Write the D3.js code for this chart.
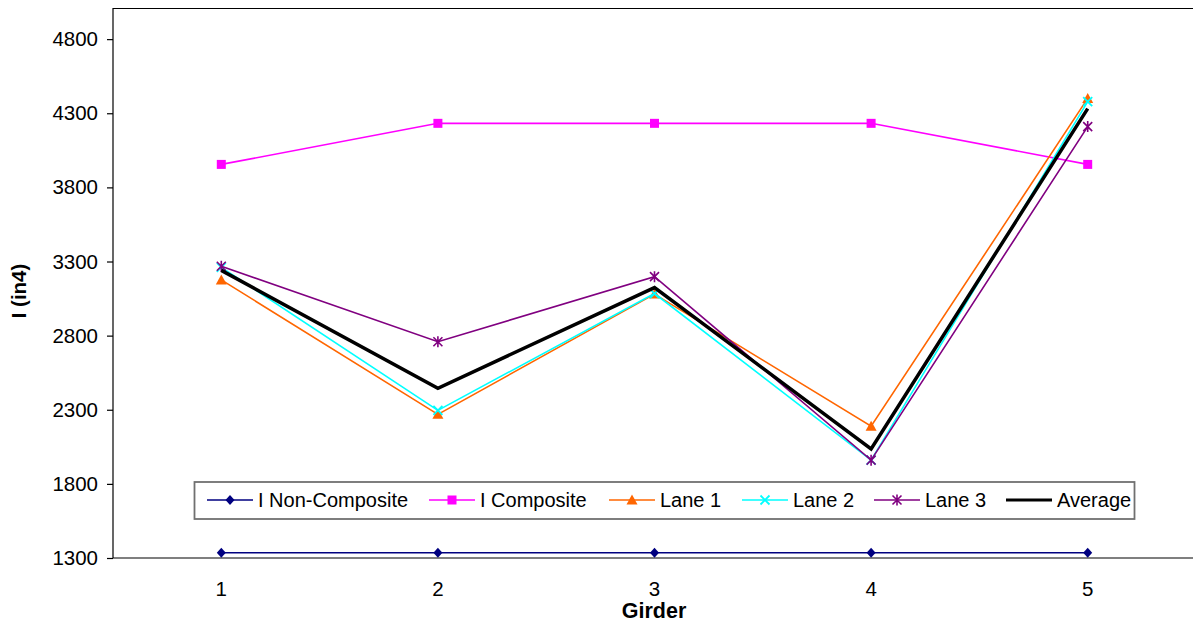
<!DOCTYPE html>
<html>
<head>
<meta charset="utf-8">
<script src="https://cdn.jsdelivr.net/npm/d3@7"></script>
<style>
  html, body { margin: 0; padding: 0; background: #fff; }
  svg { display: block; font-family: "Liberation Sans", Arial, sans-serif; }
</style>
</head>
<body>
<svg id="chart" width="1193" height="624"></svg>
<script>
const categories = ["1", "2", "3", "4", "5"];
const yTicks = [1300, 1800, 2300, 2800, 3300, 3800, 4300, 4800];
const seriesNames = ["I Non-Composite", "I Composite", "Lane 1", "Lane 2", "Lane 3", "Average"];
const nonComposite = [1335, 1335, 1335, 1335, 1335];
const composite = [3955, 4232, 4232, 4232, 3955];
const lane1 = [3176, 2269, 3080, 2189, 4400];
const lane2 = [3260, 2296, 3084, 1960, 4378];
const lane3 = [3268, 2759, 3198, 1960, 4210];
const average = [3240, 2445, 3124, 2036, 4331];

const series = [
  { name: seriesNames[0], values: nonComposite, color: "#000080", width: 1.6, marker: "diamond" },
  { name: seriesNames[1], values: composite, color: "#FF00FF", width: 1.6, marker: "square" },
  { name: seriesNames[2], values: lane1, color: "#FF6600", width: 1.6, marker: "triangle" },
  { name: seriesNames[3], values: lane2, color: "#00FFFF", width: 1.6, marker: "x" },
  { name: seriesNames[4], values: lane3, color: "#800080", width: 1.6, marker: "star" },
  { name: seriesNames[5], values: average, color: "#000000", width: 3.5, marker: null }
];

const svg = d3.select("#chart");
const plot = { left: 113, right: 1196, top: 8, bottom: 558 };

const x = d3.scaleBand().domain(categories).range([plot.left, plot.right]);
const y = d3.scaleLinear().domain([1300, 5010]).range([plot.bottom, plot.top]);
const cx = c => x(c) + x.bandwidth() / 2;

// plot frame: top border
svg.append("line").attr("x1", plot.left).attr("x2", plot.right)
  .attr("y1", plot.top + 0.5).attr("y2", plot.top + 0.5)
  .attr("stroke", "#000").attr("stroke-width", 1.2);

// Y axis
const yAxis = d3.axisLeft(y).tickValues(yTicks).tickSize(6).tickPadding(9).tickFormat(d3.format("d"));
const gy = svg.append("g").attr("transform", `translate(${plot.left},0)`).call(yAxis);
gy.select(".domain").attr("stroke", "#000").attr("stroke-width", 1.2)
  .attr("d", `M0,${plot.top}V${plot.bottom}`);
gy.selectAll(".tick line").attr("stroke", "#000").attr("stroke-width", 1.2);
gy.selectAll(".tick text").attr("font-size", 20.5).attr("fill", "#000")
  .attr("font-family", "Liberation Sans, Arial, sans-serif");

// X axis
const xAxis = d3.axisBottom(x).tickSize(0).tickPadding(23);
const gx = svg.append("g").attr("transform", `translate(0,${plot.bottom})`).call(xAxis);
gx.select(".domain").attr("stroke", "#000").attr("stroke-width", 1.2)
  .attr("d", `M${plot.left},0H${plot.right}`);
gx.selectAll(".tick text").attr("font-size", 20.5).attr("fill", "#000")
  .attr("font-family", "Liberation Sans, Arial, sans-serif");

// Axis titles
svg.append("text").attr("x", 654).attr("y", 618).attr("text-anchor", "middle")
  .attr("font-size", 21.5).attr("font-weight", "bold").text("Girder");
svg.append("text").attr("transform", "translate(26,291) rotate(-90)")
  .attr("text-anchor", "middle").attr("font-size", 20.5).attr("font-weight", "bold").text("I (in4)");

function drawMarker(g, type, px, py, color) {
  const s = 4.5;
  if (type === "diamond") {
    g.append("path").attr("d", `M${px},${py - s - 0.5}L${px + s},${py}L${px},${py + s + 0.5}L${px - s},${py}Z`).attr("fill", color);
  } else if (type === "square") {
    g.append("rect").attr("x", px - 4.5).attr("y", py - 4.5).attr("width", 9).attr("height", 9).attr("fill", color);
  } else if (type === "triangle") {
    g.append("path").attr("d", `M${px},${py - 5.5}L${px + 5.5},${py + 4.5}L${px - 5.5},${py + 4.5}Z`).attr("fill", color);
  } else if (type === "x") {
    g.append("path").attr("d", `M${px - s},${py - s}L${px + s},${py + s}M${px - s},${py + s}L${px + s},${py - s}`)
      .attr("stroke", color).attr("stroke-width", 1.8).attr("fill", "none");
  } else if (type === "star") {
    g.append("path").attr("d", `M${px - s},${py - s}L${px + s},${py + s}M${px - s},${py + s}L${px + s},${py - s}M${px},${py - s - 1}L${px},${py + s + 1}`)
      .attr("stroke", color).attr("stroke-width", 1.6).attr("fill", "none");
  }
}

const line = d3.line().x((d, i) => cx(categories[i])).y(d => y(d));
const gLines = svg.append("g");
series.forEach(s => {
  gLines.append("path").datum(s.values).attr("d", line)
    .attr("fill", "none").attr("stroke", s.color).attr("stroke-width", s.width)
    .attr("stroke-linejoin", "miter");
  if (s.marker) {
    s.values.forEach((v, i) => drawMarker(gLines, s.marker, cx(categories[i]), y(v), s.color));
  }
});

// Legend
const legend = svg.append("g");
legend.append("rect").attr("x", 194.5).attr("y", 482).attr("width", 940).attr("height", 37)
  .attr("fill", "#fff").attr("stroke", "#707070").attr("stroke-width", 1.8);
const legendX = [207, 429, 609, 742, 874, 1006];
series.forEach((s, i) => {
  const lx = legendX[i], ly = 500;
  legend.append("line").attr("x1", lx).attr("x2", lx + 46).attr("y1", ly).attr("y2", ly)
    .attr("stroke", s.color).attr("stroke-width", s.marker ? 1.6 : 3);
  if (s.marker) drawMarker(legend, s.marker, lx + 23, ly, s.color);
  legend.append("text").attr("x", lx + 51).attr("y", ly + 7).attr("font-size", 20)
    .attr("fill", "#000").text(s.name);
});
</script>
</body>
</html>
